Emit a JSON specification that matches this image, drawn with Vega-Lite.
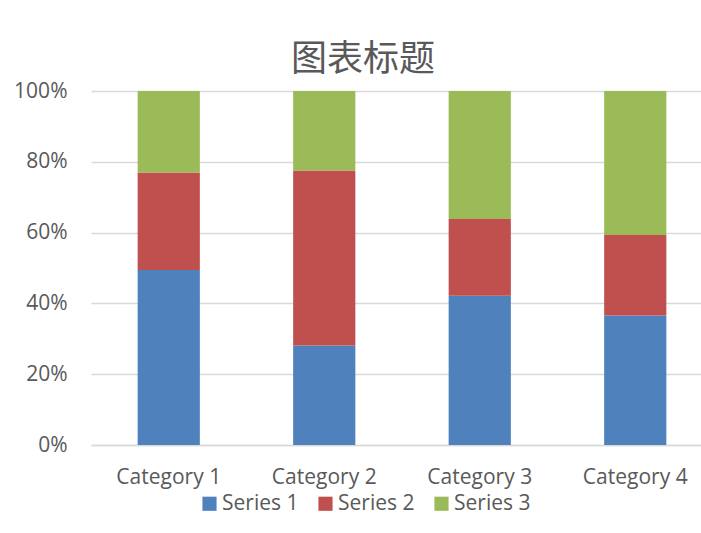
{
  "$schema": "https://vega.github.io/schema/vega-lite/v6.json",
  "autosize": "none",
  "padding": {"left": 91, "top": 91, "right": 0, "bottom": 88},
  "width": 610,
  "height": 354,
  "background": "white",
  "title": {
    "text": "图表标题",
    "font": "Noto Sans CJK SC",
    "fontSize": 36,
    "fontWeight": "normal",
    "color": "#595959",
    "anchor": "middle",
    "dx": -33,
    "offset": 1
  },
  "data": {
    "values": [
      {"category": "Category 1", "series": "Series 1", "value": 4.3},
      {"category": "Category 1", "series": "Series 2", "value": 2.4},
      {"category": "Category 1", "series": "Series 3", "value": 2},
      {"category": "Category 2", "series": "Series 1", "value": 2.5},
      {"category": "Category 2", "series": "Series 2", "value": 4.4},
      {"category": "Category 2", "series": "Series 3", "value": 2},
      {"category": "Category 3", "series": "Series 1", "value": 3.5},
      {"category": "Category 3", "series": "Series 2", "value": 1.8},
      {"category": "Category 3", "series": "Series 3", "value": 3},
      {"category": "Category 4", "series": "Series 1", "value": 4.5},
      {"category": "Category 4", "series": "Series 2", "value": 2.8},
      {"category": "Category 4", "series": "Series 3", "value": 5}
    ]
  },
  "mark": {"type": "bar"},
  "encoding": {
    "x": {
      "field": "category",
      "type": "nominal",
      "title": null,
      "scale": {"range": [0, 622], "paddingInner": 0.6, "paddingOuter": 0.3},
      "axis": {
        "labelAngle": 0,
        "labelFont": "Open Sans",
        "labelFontSize": 21,
        "labelColor": "#595959",
        "labelPadding": 21,
        "ticks": false,
        "domainColor": "#d9d9d9",
        "domainWidth": 1.5,
        "grid": false
      }
    },
    "y": {
      "field": "value",
      "type": "quantitative",
      "stack": "normalize",
      "title": null,
      "scale": {"domain": [0, 1]},
      "axis": {
        "values": [0, 0.2, 0.4, 0.6, 0.8, 1],
        "format": ".0%",
        "labelFont": "Open Sans",
        "labelFontSize": 21,
        "labelColor": "#595959",
        "labelPadding": 24,
        "ticks": false,
        "domain": false,
        "gridColor": "#d9d9d9",
        "gridWidth": 1.5
      }
    },
    "order": {"field": "series", "sort": "ascending"},
    "color": {
      "field": "series",
      "type": "nominal",
      "scale": {"domain": ["Series 1", "Series 2", "Series 3"], "range": ["#4F81BD", "#C0504D", "#9BBB59"]},
      "legend": {
        "title": null,
        "orient": "none",
        "legendX": 108,
        "legendY": 402,
        "direction": "horizontal",
        "symbolType": "square",
        "symbolSize": 200,
        "symbolStrokeWidth": 0,
        "labelFont": "Open Sans",
        "labelFontSize": 21,
        "labelColor": "#595959",
        "labelOffset": 2,
        "columnPadding": 16
      }
    }
  },
  "config": {
    "view": {"stroke": null}
  }
}
